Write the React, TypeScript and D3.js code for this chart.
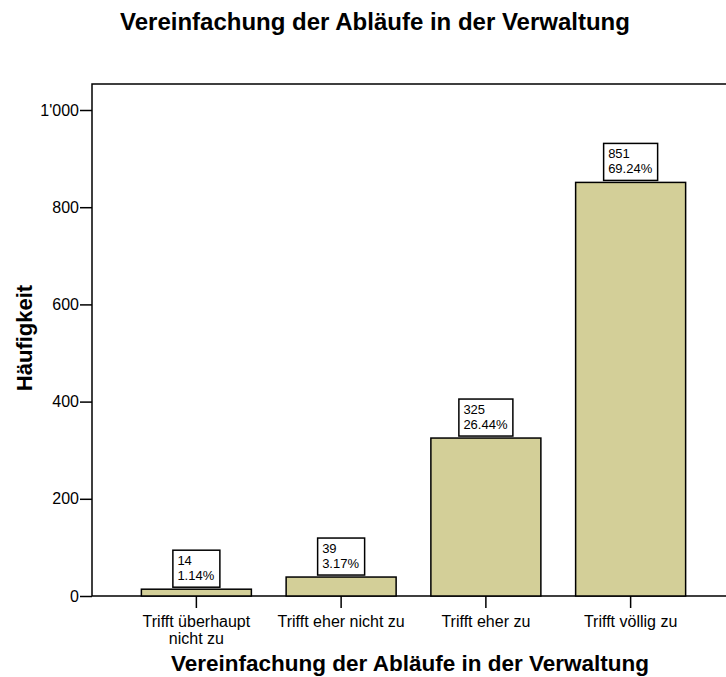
import { useRef, useEffect } from "react";
import * as d3 from "d3";

const categories = [
  ["Trifft überhaupt", "nicht zu"],
  ["Trifft eher nicht zu"],
  ["Trifft eher zu"],
  ["Trifft völlig zu"],
];
const counts = [14, 39, 325, 851];
const percents = ["1.14%", "3.17%", "26.44%", "69.24%"];
const yTicks = [0, 200, 400, 600, 800, 1000];

const W = 726;
const H = 677;
const FONT = "'Liberation Sans', Arial, sans-serif";

export default function App() {
  const svgRef = useRef<SVGSVGElement>(null);

  useEffect(() => {
    if (!svgRef.current) return;
    const svg = d3.select(svgRef.current);
    svg.selectAll("*").remove();

    const left = 92, right = 726, top = 84, bottom = 596;

    const x = d3.scaleBand<number>()
      .domain(counts.map((_, i) => i))
      .range([124, 703])
      .paddingInner(0.24)
      .paddingOuter(0.12);

    const y = d3.scaleLinear().domain([0, 1000]).range([bottom, 110]);

    // Title
    svg.append("text")
      .attr("x", 375)
      .attr("y", 30)
      .attr("text-anchor", "middle")
      .style("font-family", FONT)
      .style("font-weight", "bold")
      .style("font-size", "24px")
      .text("Vereinfachung der Abläufe in der Verwaltung");

    // Frame (top + left + bottom, right side open)
    svg.append("path")
      .attr("d", `M${right},${top}H${left}V${bottom}H${right}`)
      .attr("fill", "none")
      .attr("stroke", "#000")
      .attr("stroke-width", 1.5);

    // Y axis
    const fmt = (v: number) => d3.format(",")(v).replace(/,/g, "'");
    const yAxis = svg.append("g")
      .attr("transform", `translate(${left},0)`)
      .call(d3.axisLeft(y).tickValues(yTicks).tickSize(12).tickPadding(1).tickFormat(d => fmt(+d)));
    yAxis.select(".domain").remove();
    yAxis.selectAll("line").attr("stroke", "#000").attr("stroke-width", 1.5);
    yAxis.selectAll("text")
      .style("font-family", FONT)
      .style("font-size", "16px")
      .attr("fill", "#000");

    // Bars
    const barW = 110;
    const g = svg.append("g");
    counts.forEach((c, i) => {
      const cx = x(i)! + x.bandwidth() / 2;
      g.append("rect")
        .attr("x", cx - barW / 2)
        .attr("y", y(c))
        .attr("width", barW)
        .attr("height", bottom - y(c))
        .attr("fill", "#d3cf98")
        .attr("stroke", "#000")
        .attr("stroke-width", 1.5);

      // tick below axis
      g.append("line")
        .attr("x1", cx).attr("x2", cx)
        .attr("y1", bottom).attr("y2", bottom + 12)
        .attr("stroke", "#000")
        .attr("stroke-width", 1.5);

      // category label
      const lab = g.append("text")
        .attr("text-anchor", "middle")
        .style("font-family", FONT)
        .style("font-size", "16px");
      categories[i].forEach((line, j) => {
        lab.append("tspan").attr("x", cx).attr("y", 627 + j * 17).text(line);
      });

      // value label box
      const bh = 37;
      const by = y(c) - 2 - bh;
      const box = g.append("rect")
        .attr("y", by)
        .attr("height", bh)
        .attr("fill", "#fff")
        .attr("stroke", "#000")
        .attr("stroke-width", 1.5);
      const t = g.append("text")
        .style("font-family", FONT)
        .style("font-size", "13px");
      const l1 = t.append("tspan").attr("y", by + 15).text(String(c));
      const l2 = t.append("tspan").attr("y", by + 30).text(percents[i]);
      const tw = Math.max(
        (l1.node() as SVGTextContentElement).getComputedTextLength(),
        (l2.node() as SVGTextContentElement).getComputedTextLength()
      );
      const bw = Math.round(tw + 10);
      const bx = cx - bw / 2;
      box.attr("x", bx).attr("width", bw);
      l1.attr("x", bx + 4.5);
      l2.attr("x", bx + 4.5);
    });

    // Axis titles
    svg.append("text")
      .attr("x", 410)
      .attr("y", 671)
      .attr("text-anchor", "middle")
      .style("font-family", FONT)
      .style("font-weight", "bold")
      .style("font-size", "22.5px")
      .text("Vereinfachung der Abläufe in der Verwaltung");

    svg.append("text")
      .attr("transform", `translate(32,338) rotate(-90)`)
      .attr("text-anchor", "middle")
      .style("font-family", FONT)
      .style("font-weight", "bold")
      .style("font-size", "22px")
      .text("Häufigkeit");
  }, []);

  return (
    <svg
      ref={svgRef}
      width={W}
      height={H}
      style={{ position: "absolute", left: 0, top: 0, background: "#fff" }}
    />
  );
}
